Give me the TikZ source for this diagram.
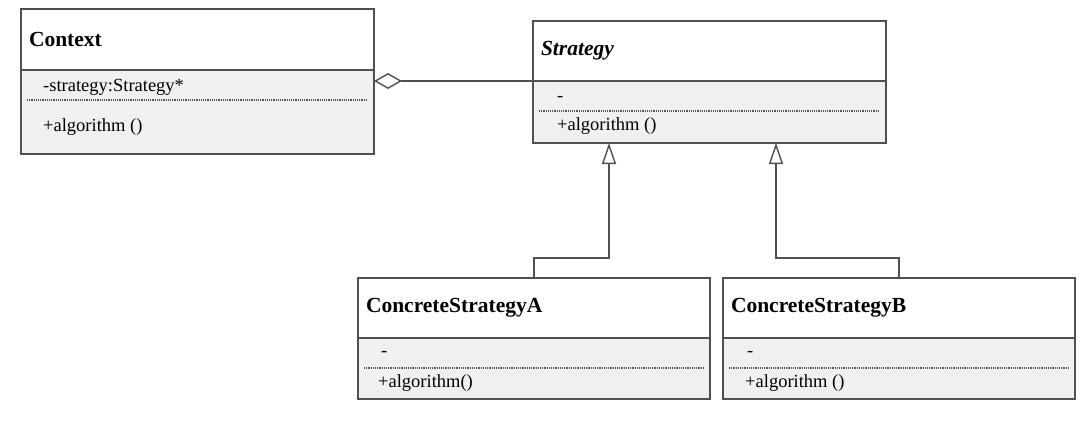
\documentclass[tikz,border=0pt]{standalone}
\usepackage{fontspec}
\setmainfont{Liberation Serif}
\usetikzlibrary{arrows.meta,calc,positioning}
\definecolor{umlramka}{RGB}{80,80,80}
\definecolor{umltlo}{RGB}{240,240,240}
\definecolor{umlkropki}{RGB}{85,85,85}

\begin{document}
\begin{tikzpicture}[x=1pt,y=-1pt,
  naglowek/.style={draw=umlramka,line width=1.4pt,fill=white,anchor=north west,
    outer sep=0pt,minimum height=60pt,inner xsep=8pt,align=left,
    font=\fontsize{21.5}{24}\selectfont\bfseries},
  cialo/.style={draw=umlramka,line width=1.4pt,fill=umltlo,anchor=north west,
    outer sep=0pt,inner sep=0pt},
  pole/.style={anchor=west,inner sep=0pt,font=\fontsize{18.5}{21}\selectfont},
  kropki/.style={umlkropki,line width=1.2pt,densely dotted},
  lacznik/.style={umlramka,line width=1.4pt}]
\useasboundingbox (0,0) rectangle (1089,431);
% --- klasa Context ---
\node[naglowek,text width=337pt,minimum height=61pt] (ctx) at (21,9) {Context};
\node[cialo,minimum width=353pt,minimum height=84pt] (ctxb) at (ctx.south west) {};
\node[pole] (ctxa) at (43,87) {-strategy:Strategy*};
\draw[kropki] (27,100) -- (368,100);
\node[pole] (ctxm) at (43,127) {+algorithm ()};
% --- interfejs Strategy ---
\node[naglowek,text width=337pt] (str) at (533,21) {\itshape Strategy};
\node[cialo,minimum width=353pt,minimum height=62pt] (strb) at (str.south west) {};
\node[pole] (stra) at (557,99) {-};
\draw[kropki] (539,111) -- (880,111);
\node[pole] (strm) at (557,126) {+algorithm ()};
% --- ConcreteStrategyA ---
\node[naglowek,text width=336pt] (csa) at (358,278) {ConcreteStrategyA};
\node[cialo,minimum width=352pt,minimum height=61pt] (csab) at (csa.south west) {};
\node[pole] (csaa) at (381,354) {-};
\draw[kropki] (364,368) -- (704,368);
\node[pole] (csam) at (378,383) {+algorithm()};
% --- ConcreteStrategyB ---
\node[naglowek,text width=336pt] (csb) at (723,278) {ConcreteStrategyB};
\node[cialo,minimum width=352pt,minimum height=61pt] (csbb) at (csb.south west) {};
\node[pole] (csba) at (747,354) {-};
\draw[kropki] (729,368) -- (1069,368);
\node[pole] (csbm) at (745,383) {+algorithm ()};
% agregacja Context <>-- Strategy
\draw[lacznik,{Diamond[open,fill=white,length=28pt,width=16pt]}-]
  (ctxb.east |- strb.north west) -- (strb.north west);
% dziedziczenie
\coordinate (gA) at ($(strb.south west)+(76,0)$);
\coordinate (gB) at ($(strb.south west)+(243,0)$);
\draw[lacznik,-{Triangle[open,fill=white,length=21pt,width=14pt]}]
  (csa.north) -- ++(0,-20) -| (gA);
\draw[lacznik,-{Triangle[open,fill=white,length=21pt,width=14pt]}]
  (csb.north) -- ++(0,-20) -| (gB);
\end{tikzpicture}
\end{document}
